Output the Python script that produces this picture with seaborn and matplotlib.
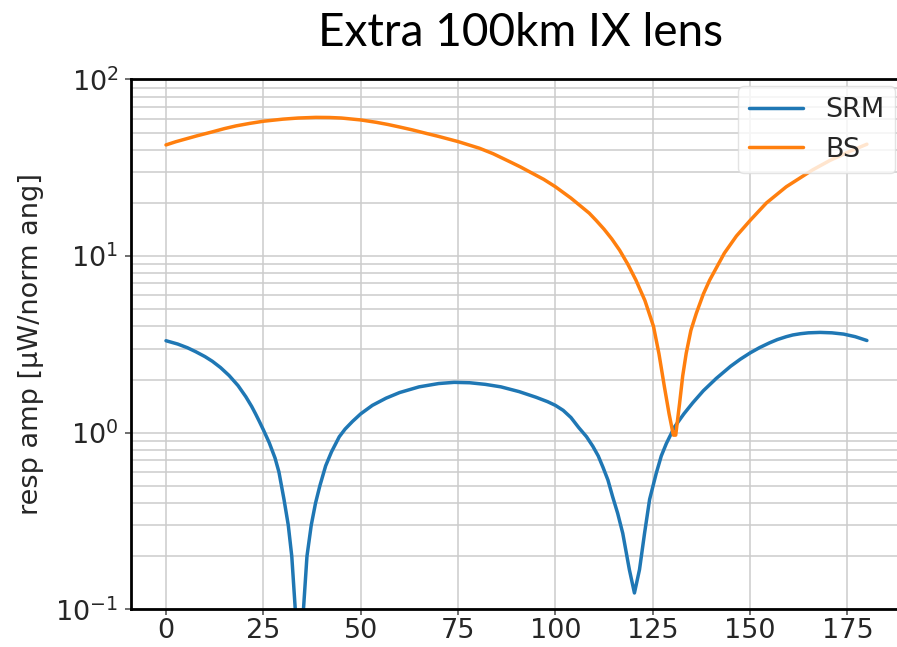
import matplotlib
matplotlib.use("Agg")
import matplotlib.pyplot as plt
import seaborn as sns
import pandas as pd
from matplotlib.ticker import LogLocator, NullFormatter

# Response amplitude versus normalised angle for the two optics
srm_angle = [0, 3, 5.5, 7.6, 10, 11.9, 14, 16.2, 18.5, 20.5, 22, 23, 24, 25, 26.5, 28,
             29, 30.3, 31.4, 32.3, 33.2, 34.25, 35.3, 36.2, 37.3, 38.4, 39.5, 41, 42.5,
             44.5, 46, 47.9, 50, 53, 56.5, 60, 65, 70, 74, 78, 82, 86, 90.7, 95, 98,
             100, 102, 104, 106, 108, 109.6, 111, 112.2, 113.5, 114.7, 116, 117.3,
             118.2, 119, 120.3, 121.6, 122.9, 124.2, 125.9, 127.2, 128.5, 130.6, 133,
             135.3, 138, 141.3, 145, 147.5, 150.1, 152.5, 155, 157, 159.3, 161, 163,
             165, 168, 171, 174, 177, 180]
srm_amp = [3.32, 3.18, 3.03, 2.88, 2.70, 2.54, 2.34, 2.11, 1.85, 1.60, 1.41, 1.28,
           1.156, 1.04, 0.88, 0.72, 0.6, 0.42, 0.3, 0.2, 0.1, 0.02, 0.1, 0.2, 0.3, 0.4,
           0.5, 0.65, 0.78, 0.95, 1.05, 1.16, 1.28, 1.43, 1.57, 1.69, 1.82, 1.9, 1.93,
           1.92, 1.88, 1.82, 1.71, 1.59, 1.5, 1.43, 1.34, 1.22, 1.07, 0.95, 0.84, 0.74,
           0.64, 0.54, 0.435, 0.35, 0.27, 0.21, 0.168, 0.124, 0.168, 0.27, 0.42, 0.59,
           0.74, 0.87, 1.08, 1.28, 1.48, 1.73, 2.03, 2.38, 2.61, 2.84, 3.04, 3.23, 3.37,
           3.50, 3.58, 3.64, 3.68, 3.70, 3.68, 3.62, 3.5, 3.33]

bs_angle = [0, 2.5, 5, 8, 11.9, 15, 18, 21.5, 25, 30, 34, 38.5, 42, 45, 50, 54, 57,
            60, 63.3, 67, 70, 75, 80.5, 84, 88.2, 91, 94, 97, 100, 104, 108.7, 110.5,
            112.5, 114.5, 116.5, 118.6, 120.7, 123, 125.2, 126.6, 128, 129.2, 130.3,
            130.9, 131.9, 132.7, 133.6, 134.8, 136.2, 138, 139.6, 143.4, 146.5, 150.1,
            154.2, 159.3, 166.1, 170.5, 175.4, 180]
bs_amp = [42.6, 44.4, 46.0, 48.0, 50.5, 52.7, 54.6, 56.4, 58.0, 59.6, 60.5, 61.0, 60.9,
          60.5, 59.0, 57.2, 55.6, 53.8, 51.8, 49.4, 47.6, 44.5, 40.8, 38.0, 34.3, 32.0,
          29.5, 27.2, 24.7, 21.3, 17.5, 15.9, 14.2, 12.5, 10.8, 9.0, 7.3, 5.6, 4.0,
          2.8, 1.82, 1.28, 0.97, 0.97, 1.47, 2.1, 2.82, 3.8, 4.75, 6.1, 7.3, 10.4,
          13.0, 16.0, 20.0, 24.7, 30.8, 34.8, 39.0, 43.0]

series_names = ["SRM", "BS"]
series_colors = ["#1f77b4", "#ff7f0e"]

x_ticks = [0, 25, 50, 75, 100, 125, 150, 175]

df = pd.concat([
    pd.DataFrame({"angle": srm_angle, "amp": srm_amp, "series": series_names[0]}),
    pd.DataFrame({"angle": bs_angle, "amp": bs_amp, "series": series_names[1]}),
], ignore_index=True)

sns.set_style("whitegrid")
plt.rcParams["font.family"] = ["DejaVu Sans"]

fig = plt.figure(figsize=(8.97, 6.47), dpi=100)
ax = fig.add_axes([0.146, 0.058, 0.8595, 0.8192])

sns.lineplot(data=df, x="angle", y="amp", hue="series", hue_order=series_names,
             palette=dict(zip(series_names, series_colors)), estimator=None,
             sort=False, linewidth=2.5, ax=ax)

ax.set_yscale("log")
ax.set_ylim(0.1, 100)
ax.set_xlim(-9, 189)
ax.set_xticks(x_ticks)
ax.yaxis.set_minor_locator(LogLocator(base=10, subs=range(2, 10)))
ax.yaxis.set_minor_formatter(NullFormatter())

ax.grid(True, which="major", color="#cccccc", linewidth=1.1)
ax.grid(True, which="minor", axis="y", color="#cccccc", linewidth=1.1)
ax.set_axisbelow(True)

for side in ax.spines.values():
    side.set_color("black")
    side.set_linewidth(2.0)

ax.tick_params(axis="both", which="major", labelsize=19.5, length=4, width=1.2,
               color="#555555", labelcolor="#262626", bottom=True, left=True)
ax.tick_params(axis="x", which="major", pad=2)
ax.tick_params(axis="y", which="major", pad=5)
ax.tick_params(axis="y", which="minor", length=0)

ax.set_xlabel("")
ax.set_ylabel("resp amp [μW/norm ang]", fontsize=19.5, color="#262626", labelpad=8)

leg = ax.legend(loc="upper right", fontsize=19.5, borderaxespad=0.25, frameon=True,
                fancybox=True, framealpha=0.8, edgecolor="#dddddd")
for line in leg.get_lines():
    line.set_linewidth(2.5)

fig.text(0.58, 0.949, "Extra 100km IX lens", ha="center", va="center",
         fontsize=33, family="Lato", color="black")

fig.savefig("out.png", dpi=100)
